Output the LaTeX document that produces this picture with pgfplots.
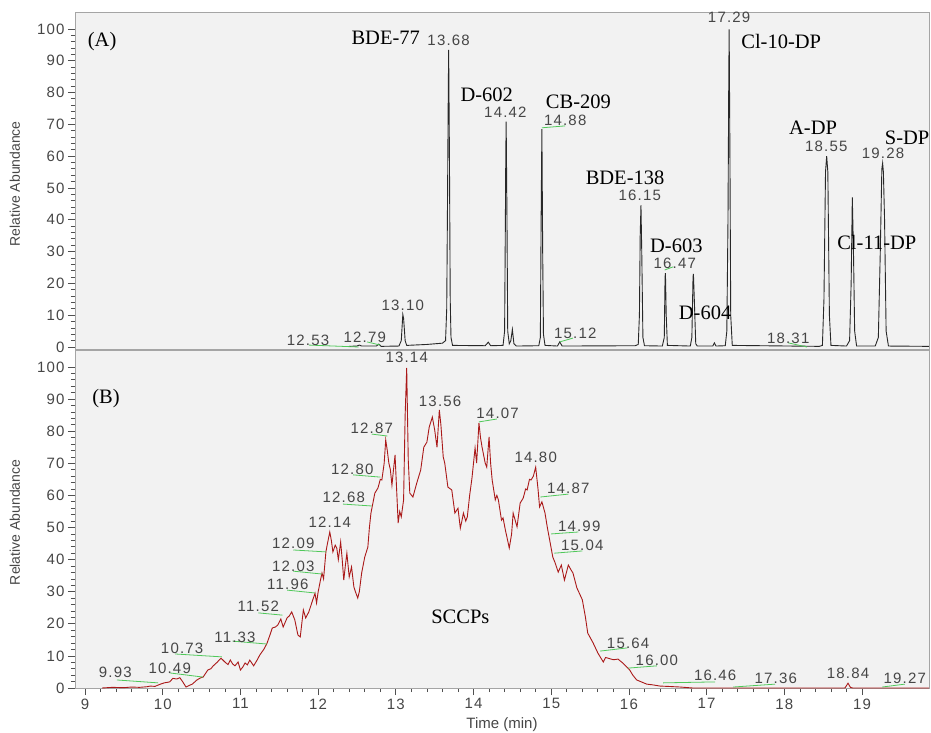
\documentclass[border=0pt]{standalone}
\usepackage{fontspec}
\setmainfont{Liberation Sans}
\newfontfamily\numfont[LetterSpace=8]{Liberation Sans}
\newfontfamily\serf{Liberation Serif}
\usepackage{pgfplots}
\pgfplotsset{compat=1.18}
\definecolor{bggray}{RGB}{242,242,242}
\definecolor{framegray}{RGB}{165,165,165}
\definecolor{labgray}{RGB}{70,70,70}
\definecolor{tickgray}{RGB}{80,80,80}
\definecolor{leadgreen}{RGB}{80,200,90}
\definecolor{tracered}{RGB}{170,25,25}
\definecolor{traceblk}{RGB}{40,40,40}

\pgfplotstableread{
t v
12.40 0.2
12.50 0.3
12.53 0.6
12.56 0.3
12.75 0.3
12.78 0.9
12.81 0.2
13.04 0.3
13.07 2
13.09 10.2
13.10 9
13.12 2
13.14 0.5
13.40 0.8
13.60 1.2
13.64 2
13.655 12
13.665 45
13.675 80
13.68 93.4
13.69 60
13.70 15
13.71 3
13.73 0.5
14.15 0.4
14.19 1.5
14.22 0.4
14.38 0.5
14.40 5
14.41 40
14.415 60
14.42 70.8
14.43 42
14.44 5
14.46 1
14.48 2
14.50 5.5
14.52 1
14.55 0.3
14.84 0.4
14.86 3
14.87 40
14.875 55
14.88 68.5
14.89 30
14.90 4
14.92 0.5
15.08 0.3
15.11 1.6
15.14 0.3
16.08 0.4
16.12 0.8
16.135 10
16.145 35
16.155 44.6
16.165 30
16.18 3
16.20 0.4
16.43 0.3
16.455 3
16.465 22
16.47 23.2
16.48 10
16.495 0.5
16.79 0.3
16.81 3
16.825 22
16.83 23
16.84 16
16.86 1
16.88 0.3
17.08 0.3
17.10 1.3
17.12 0.3
17.24 0.4
17.26 5
17.275 40
17.285 85
17.29 99.8
17.30 60
17.31 10
17.33 0.5
18.45 0.2
18.49 0.5
18.51 15
18.53 55
18.545 60
18.56 55
18.58 10
18.60 0.5
18.80 0.3
18.84 2
18.86 20
18.875 47
18.89 30
18.905 5
18.93 0.3
19.17 0.3
19.21 3
19.235 30
19.255 56
19.265 57.8
19.275 55
19.29 40
19.31 5
19.34 0.3
19.86 0.2
}\traceA

\pgfplotstableread{
t v
9.22 0
9.35 0.2
9.50 0.1
9.60 0.3
9.70 0.2
9.80 0.4
9.84 0.6
9.90 0.5
9.97 1.2
10.02 1.6
10.09 1.9
10.13 3
10.18 2.8
10.22 3.2
10.25 2.2
10.30 0.3
10.34 0.8
10.38 1.2
10.44 2.5
10.49 3.2
10.52 3.4
10.55 4.5
10.58 5.6
10.62 6
10.65 6.9
10.70 8
10.75 9.3
10.80 8.1
10.84 7.3
10.87 8.7
10.90 7.5
10.93 6.9
10.97 8.1
11.00 5.6
11.03 6.5
11.06 7.8
11.09 7.2
11.12 8.7
11.17 6.9
11.21 8.5
11.25 10.3
11.30 12
11.34 13.8
11.38 16.5
11.41 18.7
11.45 19
11.48 19.6
11.52 21.5
11.55 19
11.60 21.8
11.63 22.5
11.66 23.7
11.70 21.2
11.74 16.5
11.77 15.9
11.81 24.3
11.84 21.8
11.88 23.7
11.93 27.4
11.96 29.5
11.98 26.5
12.00 29.9
12.03 33.6
12.05 35.8
12.07 34
12.10 42.4
12.12 45
12.15 48.6
12.17 46
12.19 42.4
12.22 44.5
12.24 43.6
12.26 40
12.29 45.5
12.31 40
12.33 33.6
12.35 38
12.37 42
12.40 34.6
12.43 37.7
12.46 31.5
12.48 30
12.51 28
12.53 30
12.56 35.8
12.60 40.8
12.64 43.9
12.66 50
12.68 54.5
12.70 57
12.73 60.7
12.77 62.3
12.80 65
12.82 64.8
12.85 70
12.87 77.3
12.89 74
12.91 70.1
12.93 68
12.95 63.2
12.97 68
12.99 72.6
13.01 62
13.03 51.4
13.05 55
13.07 53.3
13.10 58.6
13.12 85
13.14 99.7
13.16 71
13.18 60.7
13.22 59.5
13.27 63.9
13.32 67.9
13.36 75
13.40 76.6
13.43 81.3
13.47 84.4
13.50 80.4
13.53 75
13.56 86.6
13.58 82
13.61 72
13.63 70
13.67 62.6
13.72 61.7
13.76 54.5
13.80 56
13.83 49.8
13.85 52
13.87 54.5
13.90 52
13.92 53.3
13.95 60
13.98 65.4
14.02 74.8
14.04 70.1
14.07 82.6
14.09 78
14.11 75
14.15 70.1
14.17 68.8
14.20 78.2
14.22 70
14.24 64.8
14.28 58.6
14.30 60
14.32 58.6
14.36 52.3
14.38 53
14.41 49.2
14.43 47
14.46 43.6
14.49 48
14.51 54.5
14.56 50.2
14.60 57.6
14.64 59.2
14.67 62
14.69 61.7
14.72 65
14.74 64.8
14.77 66
14.80 68.8
14.83 62
14.85 56.4
14.88 58
14.92 54.5
14.95 50
14.98 46.1
15.02 40.8
15.05 39
15.09 36.1
15.13 38.3
15.17 33.6
15.22 38.3
15.25 37
15.28 35.8
15.33 31.2
15.40 27.5
15.44 22.1
15.47 17.1
15.54 14
15.60 10.9
15.67 8.1
15.70 9.5
15.73 9.3
15.80 8.8
15.86 9
15.92 7.8
16.01 5.6
16.05 4
16.10 2.5
16.23 1.2
16.30 1.0
16.40 0.6
16.50 0.5
16.66 0.3
16.82 0
18.78 0
18.82 1.5
18.85 0.2
18.88 0
19.86 0
}\traceB

% green leader lines (nan = break)
\pgfplotstableread{
t v
11.88 0.6
12.52 0.0
nan nan
12.63 1.6
12.80 0.6
nan nan
14.88 68.9
15.18 69.5
nan nan
15.11 1.6
15.28 2.8
nan nan
16.46 24.2
16.57 25.2
nan nan
18.05 1.3
18.29 0.0
}\leadA

\pgfplotstableread{
t v
9.41 2.5
9.94 1.6
nan nan
10.09 4.7
10.52 3.4
nan nan
10.16 10.6
10.76 9.7
nan nan
10.90 14.6
11.34 13.7
nan nan
11.23 23.4
11.54 22.7
nan nan
11.60 30.5
11.96 29.6
nan nan
11.68 36.4
12.05 35.5
nan nan
11.68 43.0
12.10 42.4
nan nan
12.32 57.3
12.69 56.7
nan nan
12.45 66.4
12.80 65.7
nan nan
12.69 79.1
12.89 78.5
nan nan
14.07 82.9
14.30 83.8
nan nan
14.86 59.5
15.22 60.4
nan nan
15.00 48.0
15.35 48.6
nan nan
15.04 42.0
15.40 42.7
nan nan
15.63 11.5
15.98 12.5
nan nan
15.99 6.2
16.36 6.9
nan nan
16.44 1.6
17.11 1.9
nan nan
17.34 0.3
17.88 1.2
nan nan
19.26 0.3
19.55 1.2
}\leadB

\newcommand{\nl}{\fontsize{15}{17}\selectfont\numfont}
\newcommand{\serlab}{\fontsize{20.5}{23}\selectfont\serf}
\tikzset{
  nlab/.style={font=\nl, text=labgray, inner sep=0pt, anchor=center},
  slab/.style={font=\serlab, text=black, inner sep=0pt, anchor=center},
}

\begin{document}
\begin{tikzpicture}
\pgfplotsset{
  chrom/.style={
    scale only axis, width=854pt,
    xmin=8.871, xmax=19.862,
    ymin=-0.63, ymax=105.3,
    clip=false,
    axis background/.style={fill=bggray},
    axis line style={draw=framegray, line width=0.8pt},
    ytick={0,10,...,100}, minor y tick num=4,
    tick align=outside, tick pos=left,
    major tick length=7pt, minor tick length=4pt,
    tick style={draw=tickgray, line width=0.7pt},
    /pgf/number format/assume math mode=true,
    tick label style={font=\nl, text=labgray},
    every axis y label/.style={at={(axis description cs:-0.0703,0.49)}, rotate=90, anchor=center, font=\fontsize{14}{16}\selectfont, text=labgray},
    ylabel={Relative Abundance},
  }
}
% ---------- panel A ----------
\begin{axis}[chrom, name=A, at={(75pt,384pt)}, anchor=south west, height=337pt,
  xtick=\empty]
\addplot[traceblk, line width=0.9pt] table[x=t, y=v] {\traceA};
\addplot[leadgreen, line width=0.8pt, unbounded coords=jump] table[x=t, y=v] {\leadA};
\node[slab] at (axis cs:9.22,95.9) {(A)};
\node[nlab] at (axis cs:11.87,2.2) {12.53};
\node[nlab] at (axis cs:12.60,3.1) {12.79};
\node[nlab] at (axis cs:13.09,13.2) {13.10};
\node[slab] at (axis cs:12.87,97.2) {BDE-77};
\node[nlab] at (axis cs:13.68,96.5) {13.68};
\node[slab] at (axis cs:14.17,79.2) {D-602};
\node[nlab] at (axis cs:14.41,73.9) {14.42};
\node[slab] at (axis cs:15.35,77.0) {CB-209};
\node[nlab] at (axis cs:15.18,71.4) {14.88};
\node[nlab] at (axis cs:15.31,4.4) {15.12};
\node[slab] at (axis cs:15.95,53.3) {BDE-138};
\node[nlab] at (axis cs:16.14,47.6) {16.15};
\node[slab] at (axis cs:16.61,31.8) {D-603};
\node[nlab] at (axis cs:16.59,26.4) {16.47};
\node[slab] at (axis cs:16.98,10.7) {D-604};
\node[nlab] at (axis cs:17.29,103.5) {17.29};
\node[slab] at (axis cs:17.96,95.9) {Cl-10-DP};
\node[nlab] at (axis cs:18.05,2.8) {18.31};
\node[slab] at (axis cs:18.37,68.9) {A-DP};
\node[nlab] at (axis cs:18.54,63.2) {18.55};
\node[slab] at (axis cs:19.58,65.7) {S-DP};
\node[nlab] at (axis cs:19.27,61.0) {19.28};
\node[slab] at (axis cs:19.19,32.7) {Cl-11-DP};
\end{axis}
% ---------- panel B ----------
\begin{axis}[chrom, name=B, at={(75pt,45pt)}, anchor=south west, height=338pt,
  ymin=0, ymax=105.3,
  xtick={9,10,...,19}, minor x tick num=4,
  xlabel={Time (min)},
  xlabel style={at={(axis description cs:0.5,0)}, anchor=center, yshift=-37pt, font=\fontsize{15}{17}\selectfont, text=labgray}]
\addplot[tracered, line width=0.9pt] table[x=t, y=v] {\traceB};
\addplot[leadgreen, line width=0.8pt, unbounded coords=jump] table[x=t, y=v] {\leadB};
\node[slab] at (axis cs:9.27,90.3) {(B)};
\node[slab] at (axis cs:13.83,22.1) {SCCPs};
\node[nlab] at (axis cs:9.39,5.0) {9.93};
\node[nlab] at (axis cs:10.09,6.2) {10.49};
\node[nlab] at (axis cs:10.25,12.5) {10.73};
\node[nlab] at (axis cs:10.93,15.9) {11.33};
\node[nlab] at (axis cs:11.23,25.5) {11.52};
\node[nlab] at (axis cs:11.61,32.4) {11.96};
\node[nlab] at (axis cs:11.68,38.0) {12.03};
\node[nlab] at (axis cs:11.68,45.2) {12.09};
\node[nlab] at (axis cs:12.15,51.7) {12.14};
\node[nlab] at (axis cs:12.33,59.5) {12.68};
\node[nlab] at (axis cs:12.44,68.2) {12.80};
\node[nlab] at (axis cs:12.69,81.0) {12.87};
\node[nlab] at (axis cs:13.14,103.1) {13.14};
\node[nlab] at (axis cs:13.57,89.4) {13.56};
\node[nlab] at (axis cs:14.31,85.7) {14.07};
\node[nlab] at (axis cs:14.80,72.0) {14.80};
\node[nlab] at (axis cs:15.22,62.3) {14.87};
\node[nlab] at (axis cs:15.36,50.5) {14.99};
\node[nlab] at (axis cs:15.40,44.5) {15.04};
\node[nlab] at (axis cs:15.99,14.0) {15.64};
\node[nlab] at (axis cs:16.36,8.7) {16.00};
\node[nlab] at (axis cs:17.11,4.0) {16.46};
\node[nlab] at (axis cs:17.89,3.1) {17.36};
\node[nlab] at (axis cs:18.82,4.6) {18.84};
\node[nlab] at (axis cs:19.55,3.1) {19.27};
\end{axis}
\pgfresetboundingbox
\useasboundingbox (0,0) rectangle (931pt,733pt);
\end{tikzpicture}
\end{document}
